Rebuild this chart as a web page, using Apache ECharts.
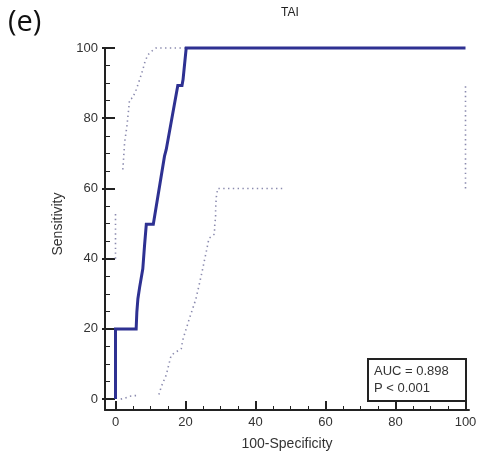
<!DOCTYPE html>
<html>
<head>
<meta charset="utf-8">
<script src="https://cdn.jsdelivr.net/npm/echarts@6/dist/echarts.min.js"></script>
<style>
  html, body { margin: 0; padding: 0; background: #fff; }
  #chart { width: 483px; height: 456px; }
</style>
</head>
<body>
<div id="chart"></div>
<script>
// ROC curve for TAI: [100-Specificity, Sensitivity]
const rocCurve = [
  [0, 0], [0, 20], [5.9, 20], [6.1, 24.8], [6.4, 28.6], [6.9, 31.9], [7.8, 37.1],
  [8.3, 43.8], [8.8, 49.8], [10.8, 49.8], [14.0, 69.2], [14.5, 71.1], [17.8, 89.3],
  [19.0, 89.3], [19.3, 91.0], [20.2, 100], [100, 100]
];

// 95% confidence bounds, drawn as separate dotted pieces
const upperBoundA = [[0, 40], [0, 53]];
const upperBoundB = [
  [2.1, 65.4], [2.4, 70], [2.6, 73], [3.3, 78], [3.8, 83], [4.0, 85.3], [4.9, 85.8],
  [5.9, 88.1], [6.9, 91], [7.8, 93.8], [8.3, 95.7], [9.2, 98], [10.7, 99.4],
  [11.6, 100], [20.2, 100]
];
const lowerBoundA = [[1.5, 0], [3.0, 0.4], [4.0, 0.8], [5.5, 1.0], [6.6, 1.0]];
const lowerBoundB = [
  [12.4, 1.3], [13.1, 3.6], [14.5, 6.9], [15.9, 12.5], [18.8, 14.4], [19.2, 16.8],
  [21.1, 22.9], [23.0, 28.6], [24.5, 35.2], [25.9, 41.8], [26.7, 45.8], [28.3, 47],
  [28.3, 48.9], [28.6, 52], [28.6, 54], [28.8, 57.5], [29.2, 60], [48.3, 60]
];
const lowerBoundC = [[100, 60], [100, 90]];

const majorTicks = [0, 20, 40, 60, 80, 100];
const minorTicks = [5, 10, 15, 25, 30, 35, 45, 50, 55, 65, 70, 75, 85, 90, 95];

const aucText = 'AUC = 0.898';
const pText = 'P < 0.001';

const font = 'Liberation Sans, Arial, sans-serif';
const axisColor = '#222';
const labelColor = '#333';

const chart = echarts.init(document.getElementById('chart'), null, { renderer: 'canvas' });

function dotted(data) {
  return {
    type: 'line', data: data, symbol: 'none', clip: false, z: 2,
    lineStyle: { color: '#8a8aae', width: 1.6, type: [1.4, 3.4] }
  };
}

const xRange = { min: -3, max: 101 };
const yRange = { min: -3.1, max: 100 };

chart.setOption({
  animation: false,
  backgroundColor: '#fff',
  grid: { left: 105, right: 14, top: 48, bottom: 44 },
  xAxis: [
    {
      type: 'value', ...xRange,
      name: '100-Specificity', nameLocation: 'middle', nameGap: 27,
      nameTextStyle: { fontFamily: font, fontSize: 14, color: labelColor },
      axisLine: { onZero: false, lineStyle: { color: axisColor, width: 2 } },
      axisTick: { inside: true, length: 9, customValues: majorTicks, lineStyle: { color: axisColor, width: 2 } },
      axisLabel: { customValues: majorTicks, margin: 6, fontFamily: font, fontSize: 13, color: labelColor },
      splitLine: { show: false }
    },
    {
      type: 'value', ...xRange, position: 'bottom',
      axisLine: { show: false, onZero: false },
      axisTick: { inside: true, length: 4, customValues: minorTicks, lineStyle: { color: axisColor, width: 1 } },
      axisLabel: { show: false },
      splitLine: { show: false }
    }
  ],
  yAxis: [
    {
      type: 'value', ...yRange,
      axisLine: { onZero: false, lineStyle: { color: axisColor, width: 2 } },
      axisTick: { inside: true, length: 10, customValues: majorTicks, lineStyle: { color: axisColor, width: 2 } },
      axisLabel: { customValues: majorTicks, margin: 7, fontFamily: font, fontSize: 13, color: labelColor },
      splitLine: { show: false }
    },
    {
      type: 'value', ...yRange, position: 'left',
      axisLine: { show: false, onZero: false },
      axisTick: { inside: true, length: 5, customValues: minorTicks, lineStyle: { color: axisColor, width: 1 } },
      axisLabel: { show: false },
      splitLine: { show: false }
    },
    {
      type: 'value', ...yRange, position: 'left',
      axisLine: { show: false, onZero: false },
      axisTick: { inside: false, length: 3, customValues: majorTicks, lineStyle: { color: axisColor, width: 2 } },
      axisLabel: { show: false },
      splitLine: { show: false }
    }
  ],
  series: [
    dotted(upperBoundA),
    dotted(upperBoundB),
    dotted(lowerBoundA),
    dotted(lowerBoundB),
    dotted(lowerBoundC),
    {
      type: 'line', data: rocCurve, symbol: 'none', clip: false, z: 3,
      lineStyle: { color: '#2e3192', width: 3, join: 'miter' }
    }
  ],
  graphic: [
    {
      type: 'text', left: 8, top: 8,
      style: { text: '(e)', fontFamily: 'Open Sans, Lato, sans-serif', fontSize: 29, fill: '#111' }
    },
    {
      type: 'text', x: 290, y: 13,
      style: { text: 'TAI', fontFamily: font, fontSize: 12, fill: '#222', align: 'center', verticalAlign: 'middle' }
    },
    {
      type: 'text', x: 58, y: 224, rotation: Math.PI / 2,
      style: { text: 'Sensitivity', fontFamily: font, fontSize: 14, fill: labelColor, align: 'center', verticalAlign: 'middle' }
    },
    {
      type: 'group', z: 10,
      children: [
        {
          type: 'rect', shape: { x: 368, y: 359, width: 98, height: 42 },
          style: { fill: '#fff', stroke: axisColor, lineWidth: 2 }
        },
        {
          type: 'text', x: 374, y: 371,
          style: { text: aucText, fontFamily: font, fontSize: 13, fill: labelColor, verticalAlign: 'middle' }
        },
        {
          type: 'text', x: 374, y: 388,
          style: { text: pText, fontFamily: font, fontSize: 13, fill: labelColor, verticalAlign: 'middle' }
        }
      ]
    }
  ]
});
</script>
</body>
</html>
